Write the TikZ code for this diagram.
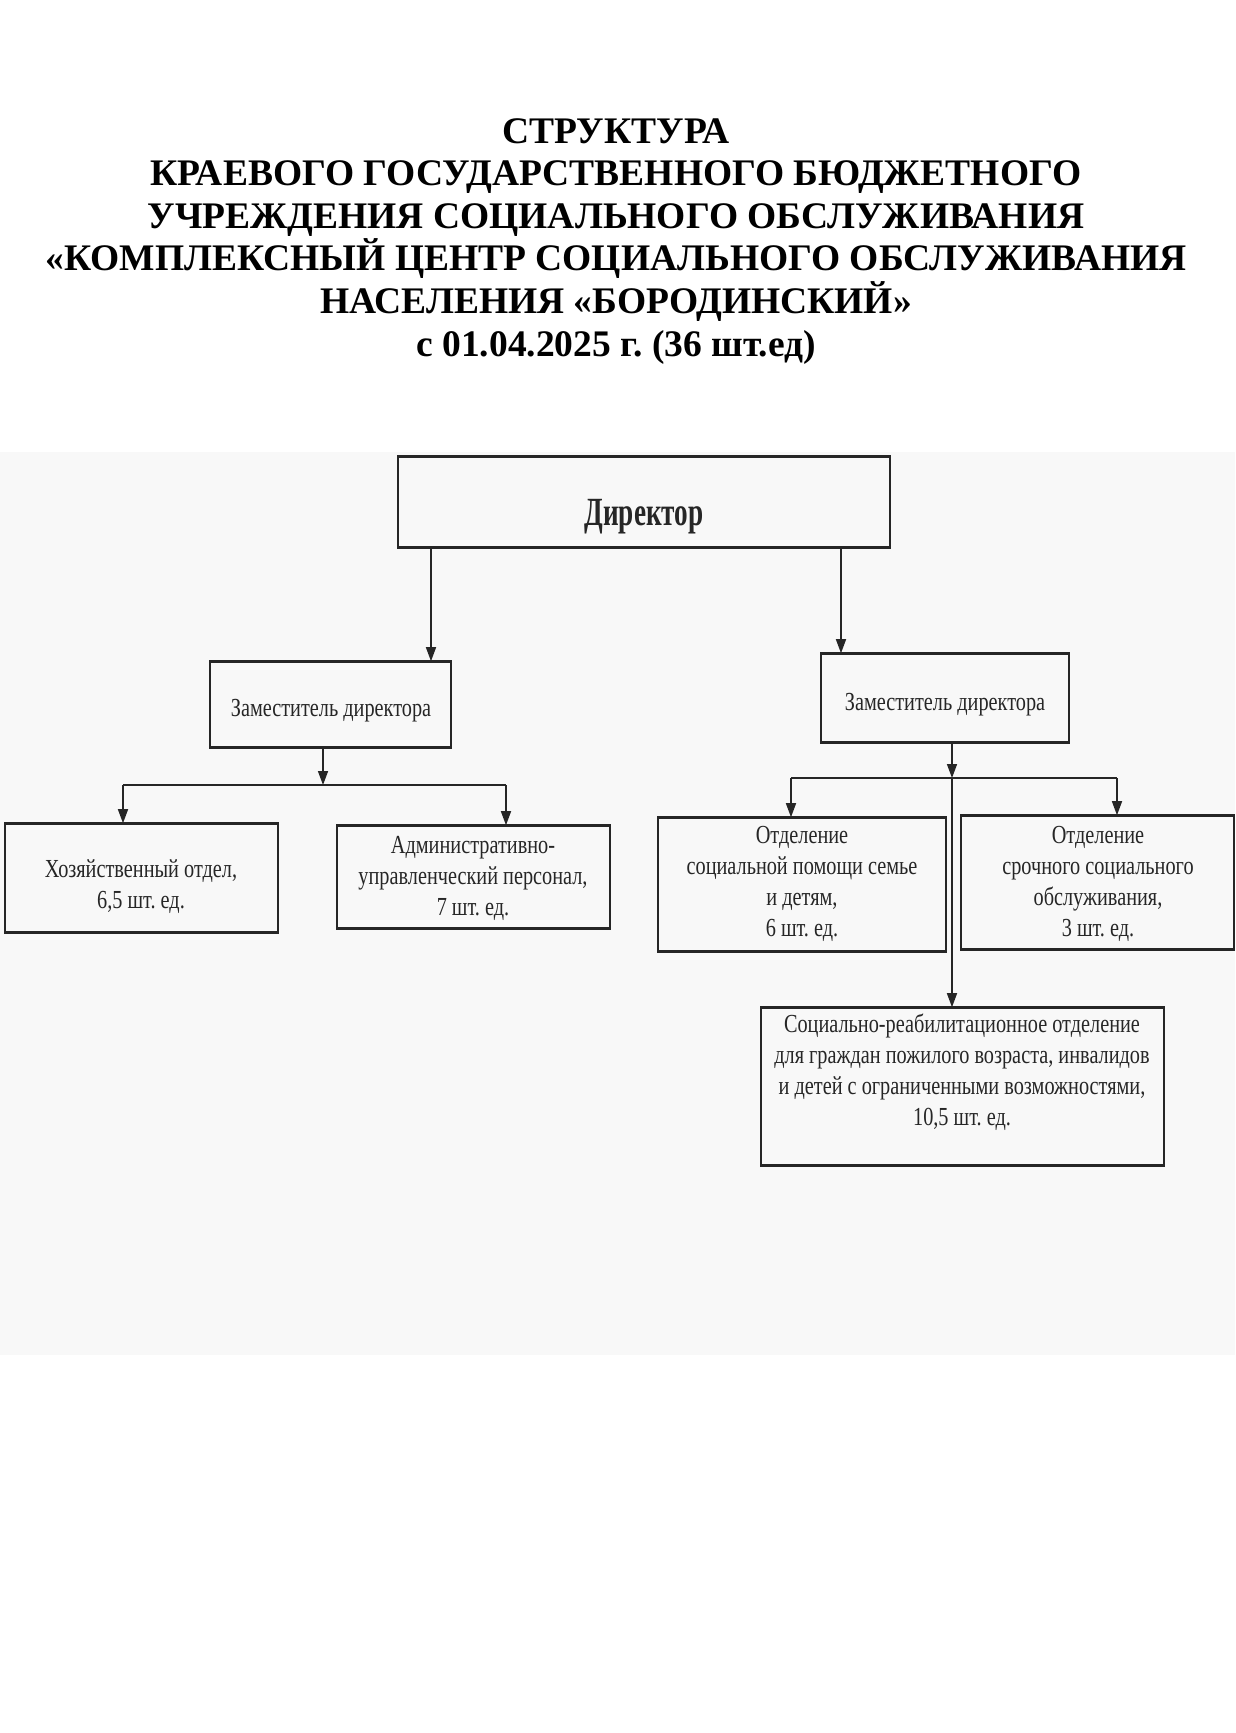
\documentclass[tikz,border=0pt]{standalone}
\usepackage{fontspec}
\setmainfont{Liberation Serif}
\newfontfamily\condf[FakeStretch=0.78]{Liberation Serif}
\newfontfamily\dirf[FakeStretch=0.68]{Liberation Serif}
\usetikzlibrary{arrows.meta}
\definecolor{bg}{RGB}{248,248,248}
\definecolor{ink}{RGB}{38,38,38}
\frenchspacing
\begin{document}
\begin{tikzpicture}[x=1pt,y=-1pt,
  box/.style={draw=ink, line width=1.6pt, rectangle, inner sep=0pt},
  edge/.style={draw=ink, line width=3pt},
  conn/.style={draw=ink, line width=1.5pt},
  arr/.style={conn, -{Triangle[length=14pt,width=10pt]}},
  txt/.style={font=\condf\fontsize{26}{31}\selectfont, align=center, text=ink, inner sep=0pt},
  ttl/.style={font=\bfseries\fontsize{37.5}{43}\selectfont, text=black, inner sep=0pt, anchor=base}]
\useasboundingbox (0,0) rectangle (1235,1733);
\fill[white] (0,0) rectangle (1235,1733);
\fill[bg] (0,452) rectangle (1235,1355);
% title
\node[ttl] (t1) at (616,143) {СТРУКТУРА};
\node[ttl] (t2) at (616,185.6) {КРАЕВОГО ГОСУДАРСТВЕННОГО БЮДЖЕТНОГО};
\node[ttl] (t3) at (616,228.2) {УЧРЕЖДЕНИЯ СОЦИАЛЬНОГО ОБСЛУЖИВАНИЯ};
\node[ttl] (t4) at (616,270.8) {«КОМПЛЕКСНЫЙ ЦЕНТР СОЦИАЛЬНОГО ОБСЛУЖИВАНИЯ};
\node[ttl] (t5) at (616,313.4) {НАСЕЛЕНИЯ «БОРОДИНСКИЙ»};
\node[ttl] (t6) at (616,356) {с 01.04.2025 г. (36 шт.ед)};
% boxes
\node[box, minimum width=492pt, minimum height=90pt] (dir) at (644,502) {};
\node[box, minimum width=241pt, minimum height=85pt] (d1) at (330.5,704.5) {};
\node[box, minimum width=248pt, minimum height=88pt] (d2) at (945,698) {};
\node[box, minimum width=273pt, minimum height=108pt] (hoz) at (141.5,878) {};
\node[box, minimum width=273pt, minimum height=102pt] (aup) at (473.5,877) {};
\node[box, minimum width=288pt, minimum height=133pt] (osp) at (802,884.5) {};
\node[box, minimum width=273pt, minimum height=133pt] (oss) at (1097.5,882.5) {};
\node[box, minimum width=403pt, minimum height=157pt] (sro) at (962.5,1086.5) {};
\foreach \n in {dir,d1,d2,hoz,aup,osp,oss,sro}{
  \draw[edge] (\n.north west) -- (\n.north east) (\n.south west) -- (\n.south east);
}
% texts
\node[anchor=base, inner sep=0pt, text=ink, font=\dirf\bfseries\fontsize{40}{48}\selectfont] (dirt) at (644,525) {Директор};
\node[txt, anchor=base] (d1t) at (331,716) {Заместитель директора};
\node[txt, anchor=base] (d2t) at (945,710) {Заместитель директора};
\node[txt] (hozt) at (141,887) {Хозяйственный отдел,\\6,5 шт. ед.};
\node[txt] (aupt) at (473,878) {Административно-\\управленческий персонал,\\7 шт. ед.};
\node[txt] (ospt) at (802,884) {Отделение\\социальной помощи семье\\и детям,\\6 шт. ед.};
\node[txt] (osst) at (1098,884) {Отделение\\срочного социального\\обслуживания,\\3 шт. ед.};
\node[txt] (srot) at (962,1072) {Социально-реабилитационное отделение\\для граждан пожилого возраста, инвалидов\\и детей с ограниченными возможностями,\\10,5 шт. ед.};
% connectors
\coordinate (a1) at (431,0);
\coordinate (a2) at (841,0);
\draw[arr] (dir.south -| a1) -- (d1.north -| a1);
\draw[arr] (dir.south -| a2) -- (d2.north -| a2);
\coordinate (j1) at (323,785);
\coordinate (l1) at (123,785);
\coordinate (r1) at (506,785);
\draw[arr] (d1.south -| j1) -- (j1);
\draw[conn] (l1) -- (r1);
\draw[arr] (l1) -- (hoz.north -| l1);
\draw[arr] (r1) -- (aup.north -| r1);
\coordinate (j2) at (952,778);
\coordinate (l2) at (791,778);
\coordinate (r2) at (1117,778);
\draw[arr] (d2.south -| j2) -- (j2);
\draw[conn] (l2) -- (r2);
\draw[arr] (l2) -- (osp.north -| l2);
\draw[arr] (r2) -- (oss.north -| r2);
\draw[arr] (j2) -- (sro.north -| j2);
\end{tikzpicture}
\end{document}
